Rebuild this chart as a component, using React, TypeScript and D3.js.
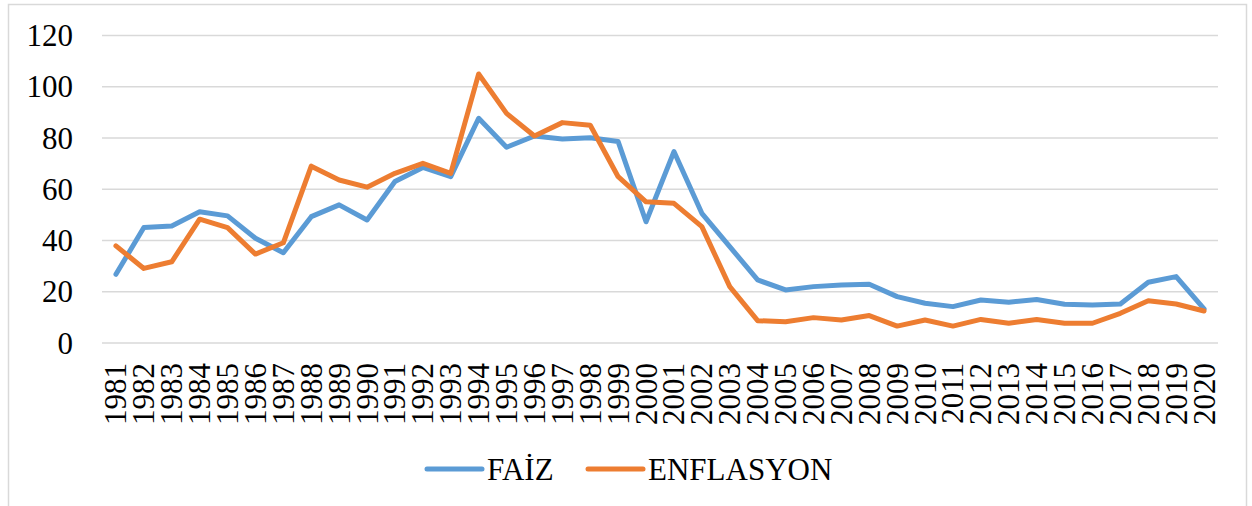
import React from 'react';
import * as d3 from 'd3';

const years: string[] = [
  '1981', '1982', '1983', '1984', '1985', '1986', '1987', '1988', '1989', '1990',
  '1991', '1992', '1993', '1994', '1995', '1996', '1997', '1998', '1999', '2000',
  '2001', '2002', '2003', '2004', '2005', '2006', '2007', '2008', '2009', '2010',
  '2011', '2012', '2013', '2014', '2015', '2016', '2017', '2018', '2019', '2020',
];

const faiz: number[] = [
  26.8, 45.1, 45.7, 51.2, 49.6, 40.9, 35.2, 49.3, 53.9, 48.0,
  63.0, 68.5, 64.9, 87.7, 76.4, 80.8, 79.6, 80.1, 78.6, 47.3,
  74.7, 50.6, 37.6, 24.6, 20.7, 22.0, 22.6, 22.9, 18.1, 15.5,
  14.2, 16.8, 15.9, 17.0, 15.1, 14.8, 15.2, 23.7, 25.9, 13.3,
];

const enflasyon: number[] = [
  37.9, 29.1, 31.7, 48.3, 45.0, 34.7, 39.1, 69.0, 63.6, 60.8,
  66.2, 70.1, 66.2, 105.0, 89.6, 80.8, 86.0, 85.0, 64.9, 55.1,
  54.5, 45.4, 22.0, 8.7, 8.3, 9.9, 9.0, 10.7, 6.6, 9.0,
  6.6, 9.2, 7.7, 9.2, 7.7, 7.7, 11.6, 16.5, 15.2, 12.5,
];

const yTicks: number[] = [0, 20, 40, 60, 80, 100, 120];

const seriesNames = ['FAİZ', 'ENFLASYON'];
const colors = ['#5b9bd5', '#ed7d31'];

const W = 1252;
const H = 506;
const FONT = "Times New Roman, Liberation Serif, Tinos, DejaVu Serif, Noto Serif, serif";

export default function App() {
  const x = d3.scaleBand<string>().domain(years).range([102, 1218]).padding(0);
  const y = d3.scaleLinear().domain([0, 120]).range([343, 35.5]);
  const cx = (yr: string) => (x(yr) as number) + x.bandwidth() / 2;

  const line = d3
    .line<number>()
    .x((_, i) => cx(years[i]))
    .y((d) => y(d));

  const series = [faiz, enflasyon];

  // legend layout
  const legendItems = [
    { x0: 427, tx: 487 },
    { x0: 588, tx: 648 },
  ];

  return (
    <svg
      width={W}
      height={H}
      fontFamily={FONT}
      fontSize={31}
      style={{ position: 'absolute', left: 0, top: 0, display: 'block', background: '#fff' }}
    >
      <rect x={8.5} y={4.5} width={1238} height={540} fill="#fff" stroke="#d9d9d9" strokeWidth={1.5} />

      {yTicks.map((t) => (
        <g key={t}>
          <line x1={102} x2={1218} y1={y(t)} y2={y(t)} stroke="#d9d9d9" strokeWidth={1.5} />
          <text x={73} y={y(t) + 10.5} textAnchor="end" fill="#000">
            {t}
          </text>
        </g>
      ))}

      {years.map((yr) => (
        <text
          key={yr}
          transform={`translate(${cx(yr) + 10.5},363) rotate(-90)`}
          textAnchor="end"
          fill="#000"
        >
          {yr}
        </text>
      ))}

      {series.map((s, i) => (
        <path
          key={seriesNames[i]}
          d={line(s) || ''}
          fill="none"
          stroke={colors[i]}
          strokeWidth={5}
          strokeLinejoin="round"
          strokeLinecap="round"
        />
      ))}

      {seriesNames.map((name, i) => (
        <g key={name}>
          <line
            x1={legendItems[i].x0}
            x2={legendItems[i].x0 + 55}
            y1={469}
            y2={469}
            stroke={colors[i]}
            strokeWidth={5}
            strokeLinecap="round"
          />
          <text x={legendItems[i].tx} y={479.5} fill="#000">
            {name}
          </text>
        </g>
      ))}
    </svg>
  );
}
